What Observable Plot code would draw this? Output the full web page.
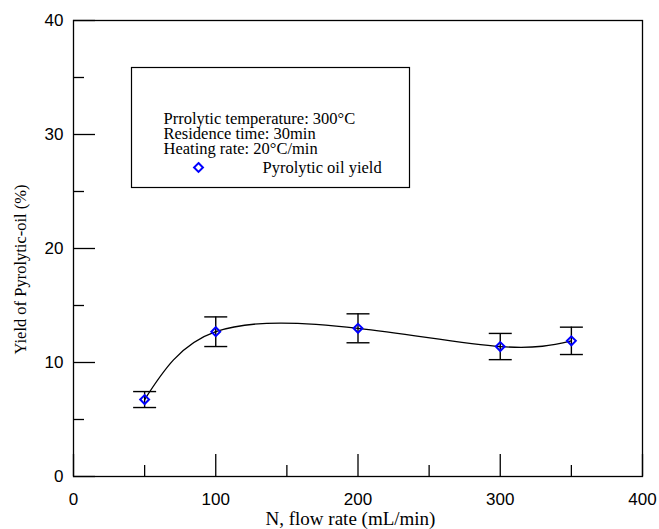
<!DOCTYPE html>
<html>
<head>
<meta charset="utf-8">
<script src="https://cdn.jsdelivr.net/npm/d3@7"></script>
<script src="https://cdn.jsdelivr.net/npm/@observablehq/plot@0.6"></script>
<style>
  body { margin: 0; background: #fff; }
  #chart svg { display: block; }
</style>
</head>
<body>
<div id="chart"></div>
<script>
// N2 flow rate (mL/min) and measured pyrolytic oil yield (%) with error
const flowRates = [50, 100, 200, 300, 350];
const oilYield = [6.75, 12.7, 13.0, 11.4, 11.9];
const yieldError = [0.7, 1.3, 1.27, 1.15, 1.2];

// axis ticks
const xMajorTicks = [0, 100, 200, 300, 400];
const xMinorTicks = [50, 150, 250, 350];
const yMajorTicks = [0, 10, 20, 30, 40];
const yMinorTicks = [5, 15, 25, 35];

// texts
const conditionLines = [
  "Prrolytic temperature: 300°C",
  "Residence time: 30min",
  "Heating rate: 20°C/min"
];
const seriesLabel = "Pyrolytic oil yield";
const xTitle = "N, flow rate (mL/min)";
const yTitle = "Yield of Pyrolytic-oil (%)";

const rows = flowRates.map((x, i) => ({
  x,
  y: oilYield[i],
  lo: oilYield[i] - yieldError[i],
  hi: oilYield[i] + yieldError[i]
}));

// horizontal cap for the error bars
const capSymbol = {
  draw(ctx) {
    ctx.moveTo(-11.5, 0);
    ctx.lineTo(11.5, 0);
  }
};

const sans = "'Liberation Sans', Arial, Helvetica, sans-serif";
const serif = "'Liberation Serif', 'Times New Roman', Times, serif";
const ink = "#000";
const blue = "#0000ff";

const chart = Plot.plot({
  width: 659,
  height: 529,
  marginLeft: 73,
  marginRight: 17,
  marginTop: 20,
  marginBottom: 53,
  x: { domain: [0, 400] },
  y: { domain: [0, 40] },
  style: { background: "#fff", color: ink },
  marks: [
    // inward major / minor ticks
    Plot.axisX(xMajorTicks, { tickSize: -22, fill: "none", stroke: ink, strokeWidth: 1.3 }),
    Plot.axisX(xMinorTicks, { tickSize: -11, fill: "none", stroke: ink, strokeWidth: 1.3 }),
    Plot.axisY(yMajorTicks, { tickSize: -22, fill: "none", stroke: ink, strokeWidth: 1.3 }),
    Plot.axisY(yMinorTicks, { tickSize: -11, fill: "none", stroke: ink, strokeWidth: 1.3 }),
    // tick labels
    Plot.axisX(xMajorTicks, { tickSize: 0, tickPadding: 16, label: null, fontSize: 17, fontFamily: sans, fill: ink }),
    Plot.axisY(yMajorTicks, { tickSize: 0, tickPadding: 10, label: null, fontSize: 17, fontFamily: sans, fill: ink }),
    Plot.frame({ stroke: ink, strokeWidth: 1.3 }),

    // fitted curve through the measurements
    Plot.line(rows, { x: "x", y: "y", curve: "natural", stroke: ink, strokeWidth: 1.3 }),

    // error bars
    Plot.ruleX(rows, { x: "x", y1: "lo", y2: "hi", stroke: ink, strokeWidth: 1.4 }),
    Plot.dot(rows, { x: "x", y: "lo", symbol: capSymbol, fill: "none", stroke: ink, strokeWidth: 1.4 }),
    Plot.dot(rows, { x: "x", y: "hi", symbol: capSymbol, fill: "none", stroke: ink, strokeWidth: 1.4 }),

    // measured points
    Plot.dot(rows, { x: "x", y: "y", symbol: "diamond2", r: 4, fill: "none", stroke: blue, strokeWidth: 2 }),

    // legend box with test conditions
    Plot.frame({ insetLeft: 58, insetTop: 47, insetRight: 233, insetBottom: 289, stroke: ink, strokeWidth: 1.2 }),
    Plot.text([conditionLines.join("\n")], {
      ariaLabel: "legend-text",
      frameAnchor: "top-left", dx: 90, dy: 92.3, lineAnchor: "top", lineHeight: 0.927,
      textAnchor: "start", fontSize: 16.5, fontFamily: serif, fill: ink
    }),
    Plot.dot([seriesLabel], {
      frameAnchor: "top-left", dx: 125, dy: 147, symbol: "diamond2", r: 4,
      fill: "none", stroke: blue, strokeWidth: 2
    }),
    Plot.text([seriesLabel], {
      ariaLabel: "legend-text",
      frameAnchor: "top-left", dx: 189, dy: 147, lineAnchor: "middle",
      textAnchor: "start", fontSize: 16.5, fontFamily: serif, fill: ink
    }),

    // axis titles
    Plot.text([xTitle], {
      frameAnchor: "bottom", dx: -7.5, dy: 42, lineAnchor: "middle", textAnchor: "middle",
      fontSize: 19, fontFamily: serif, fill: ink
    }),
    Plot.text([yTitle], {
      frameAnchor: "left", dx: -52.5, dy: 21, rotate: -90, lineAnchor: "middle", textAnchor: "middle",
      fontSize: 16.5, fontFamily: serif, fill: ink
    })
  ]
});

// the legend lettering is set slightly wide
chart.querySelectorAll('g[aria-label="legend-text"] text').forEach((t) => {
  t.setAttribute("transform", `${t.getAttribute("transform") || ""} scale(1.12,1)`);
});

document.getElementById("chart").appendChild(chart);
</script>
</body>
</html>
